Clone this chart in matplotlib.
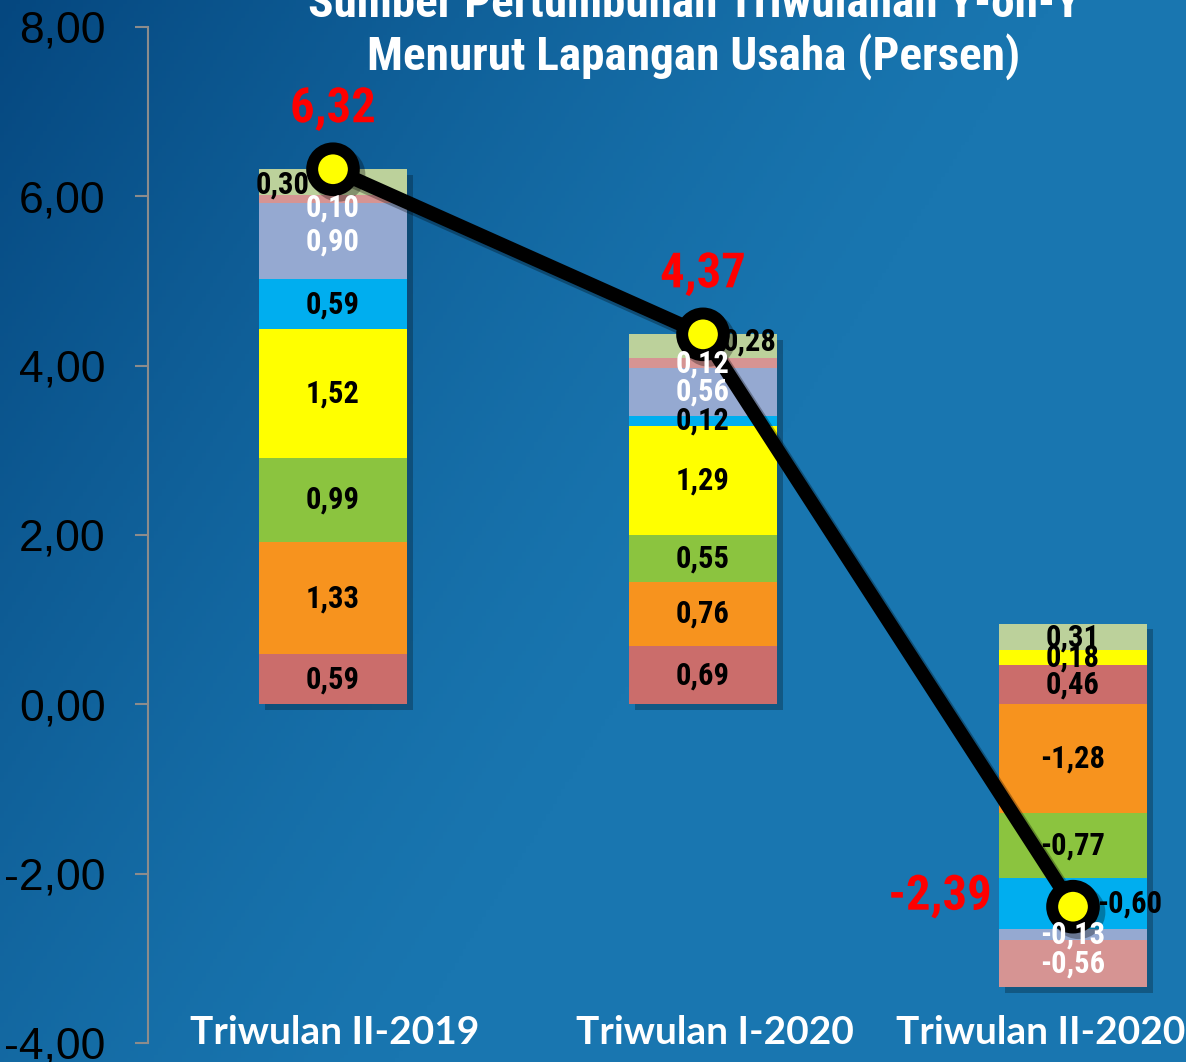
import numpy as np
import matplotlib
matplotlib.use("Agg")
import matplotlib.pyplot as plt
import matplotlib.patheffects as pe
from matplotlib.colors import to_rgb

# ── Data ──────────────────────────────────
periods = ["Triwulan II-2019", "Triwulan I-2020", "Triwulan II-2020"]
totals = [6.32, 4.37, -2.39]

# sector contributions, stacked in this order (bottom to top)
s1 = [0.59, 0.69, 0.46]
s2 = [1.33, 0.76, -1.28]
s3 = [0.99, 0.55, -0.77]
s4 = [1.52, 1.29, 0.18]
s5 = [0.59, 0.12, -0.60]
s6 = [0.90, 0.56, -0.13]
s7 = [0.10, 0.12, -0.56]
s8 = [0.30, 0.28, 0.31]
series = [s1, s2, s3, s4, s5, s6, s7, s8]

yticks = [-4, -2, 0, 2, 4, 6, 8]

# ── Style ─────────────────────────────────
colors = ["#CB6D6B", "#F7931E", "#8BC43F", "#FFFF00",
          "#00AEEF", "#95A9D1", "#D69493", "#BCD19B"]
txt_colors = ["black", "black", "black", "black",
              "black", "white", "white", "black"]
# label nudges in pixels (series index, bar index) -> (dx, dy)
nudge = {(7, 0): (-50, -3), (6, 0): (0, -9), (7, 1): (47, 5), (4, 2): (57, 0)}

NARROW = ["Liberation Sans Narrow", "Arial Narrow", "Roboto Condensed", "Liberation Sans"]
W, H = 1186, 1062
fig = plt.figure(figsize=(W / 100, H / 100), dpi=100)

# ── Background gradient ───────────────────
bg = fig.add_axes([0, 0, 1, 1], zorder=-10)
v, u = np.mgrid[0:1:300j, 0:1:300j]       # v: from top, u: from left
dark = np.clip(1 - (0.9 * u + 0.5 * v) / 0.8, 0, 1) ** 1.3
c_lt = np.array(to_rgb("#1976B0"))
c_dk = np.array(to_rgb("#05477F"))
img = c_lt[None, None, :] * (1 - dark[..., None]) + c_dk[None, None, :] * dark[..., None]
bg.imshow(img, extent=[0, 1, 0, 1], aspect="auto", origin="upper")
bg.axis("off")

# ── Main axes ─────────────────────────────
ax = fig.add_axes([148 / W, 19 / H, 1110 / W, 1016 / H])
ax.patch.set_alpha(0)
ax.set_xlim(-0.5, 2.5)
ax.set_ylim(-4, 8)

x = np.arange(len(periods))
pos_base = np.zeros(len(periods))
neg_base = np.zeros(len(periods))

for k, vals in enumerate(series):
    vals = np.array(vals)
    bottoms = np.where(vals >= 0, pos_base, neg_base)
    ax.bar(x, vals, width=0.4, bottom=bottoms, color=colors[k],
           edgecolor="none", zorder=2)
    for i, val in enumerate(vals):
        dx, dy = nudge.get((k, i), (0, 0))
        ax.annotate(f"{val:.2f}".replace(".", ","), (x[i], bottoms[i] + val / 2),
                    xytext=(dx * 0.72, dy * 0.72), textcoords="offset points",
                    ha="center", va="center", fontsize=22, fontweight="bold",
                    family=NARROW, color=txt_colors[k], zorder=6)
    pos_base = pos_base + np.where(vals >= 0, vals, 0)
    neg_base = neg_base + np.where(vals < 0, vals, 0)

# soft drop shadow behind each whole stack
ax.bar(x, pos_base - neg_base, width=0.4, bottom=neg_base, color="black",
       zorder=1.5, path_effects=[pe.SimplePatchShadow(offset=(4, -4), alpha=0.25)])

# total growth line
ax.plot(x, totals, color="black", lw=10, marker="o", ms=30, mfc="#FFFF00",
        mec="black", mew=8.6, zorder=5, solid_capstyle="round",
        path_effects=[pe.SimpleLineShadow(offset=(4, -4), alpha=0.3), pe.Normal()])

tot_off = [(0, 60), (0, 60), (-133, 10)]
for i, val in enumerate(totals):
    ax.annotate(f"{val:.2f}".replace(".", ","), (x[i], val),
                xytext=(tot_off[i][0] * 0.72, tot_off[i][1] * 0.72),
                textcoords="offset points", ha="center", va="center",
                fontsize=35, fontweight="bold", family=NARROW, color="#FF0000",
                zorder=7,
                path_effects=[pe.SimpleLineShadow(offset=(2, -2), alpha=0.3),
                              pe.Normal()])

# category labels along the bottom
lab_off = [2, 12, -32]
for i, name in enumerate(periods):
    ax.annotate(name, (x[i], -4), xytext=(lab_off[i] * 0.72, 11 * 0.72),
                textcoords="offset points", ha="center", va="center",
                fontsize=28, fontweight="bold", family="Lato", color="white",
                annotation_clip=False)

# axes decoration
for s in ["top", "right", "bottom"]:
    ax.spines[s].set_visible(False)
ax.spines["left"].set_color("#8C8C8C")
ax.spines["left"].set_linewidth(1.5)
ax.set_xticks([])
ax.set_yticks(yticks)
ax.set_yticklabels([f"{t:.2f}".replace(".", ",") for t in yticks],
                   fontsize=32, family="Liberation Sans", color="black")
ax.tick_params(axis="y", direction="out", length=9.5, width=1.5,
               color="#8C8C8C", pad=21)

# title (top line cut off by the frame)
fig.text(694 / W, 1 - 31 / H,
         "Sumber Pertumbuhan Triwulanan Y-on-Y\nMenurut Lapangan Usaha (Persen)",
         ha="center", va="center", fontsize=34, fontweight="bold",
         family=NARROW, color="white", linespacing=1.21)

fig.savefig("out.png", dpi=100)
